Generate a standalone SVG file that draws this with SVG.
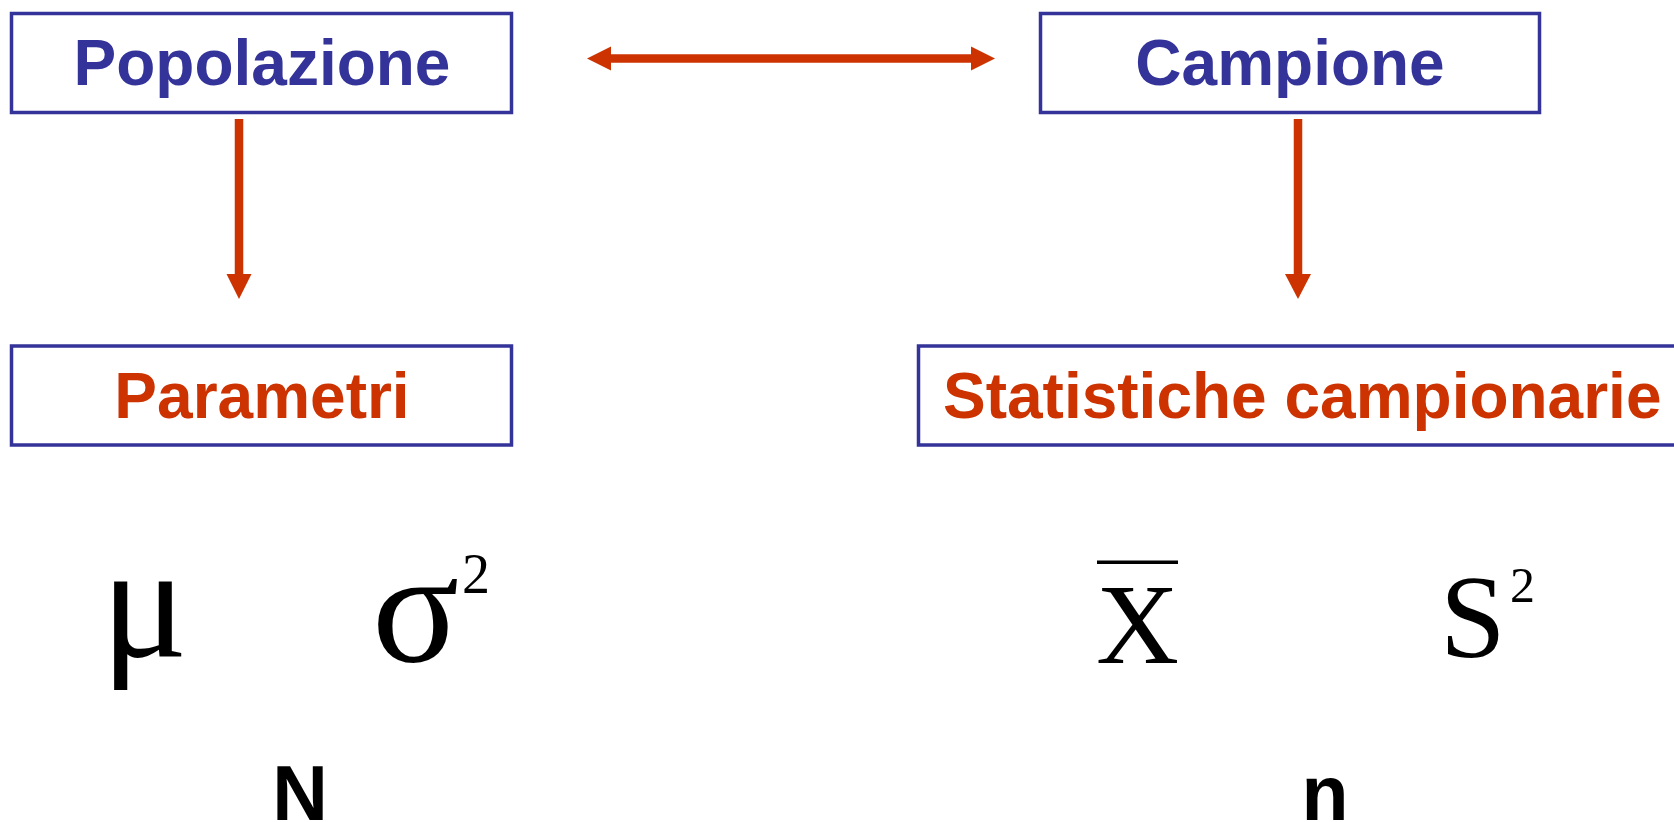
<svg xmlns="http://www.w3.org/2000/svg" width="1674" height="822" viewBox="0 0 1674 822">
<defs>
<style>
.box{fill:#fff;stroke:#333399;stroke-width:3.5}
.lbl{font-family:"Liberation Sans",Arial,sans-serif;font-weight:bold;font-size:64px}
.blue{fill:#333399}
.red{fill:#CC3300}
.math{font-family:"Liberation Serif","Times New Roman",serif;fill:#000}
.big{font-family:"Liberation Sans",Arial,sans-serif;font-weight:bold;font-size:77px;fill:#000}
.conn{stroke:#CC3300;stroke-width:8.5;fill:none}
.head{fill:#CC3300}
</style>
</defs>
<rect width="1674" height="822" fill="#fff"/>
<g id="popolazione">
<rect class="box" x="11.5" y="13.5" width="500" height="99"/>
<text class="lbl blue" x="262" y="85" text-anchor="middle">Popolazione</text>
</g>
<g id="campione">
<rect class="box" x="1040.5" y="13.5" width="499" height="99"/>
<text class="lbl blue" x="1290" y="85" text-anchor="middle">Campione</text>
</g>
<g id="parametri">
<rect class="box" x="11.5" y="346" width="500" height="99"/>
<text class="lbl red" x="262" y="418" text-anchor="middle">Parametri</text>
</g>
<g id="statistiche">
<rect class="box" x="918.5" y="346" width="800" height="99"/>
<text class="lbl red" x="943" y="418">Statistiche campionarie</text>
</g>
<g id="connectors">
<line class="conn" x1="239" y1="119" x2="239" y2="275"/>
<polygon class="head" points="226.5,274 251.5,274 239,299"/>
<line class="conn" x1="1298" y1="119" x2="1298" y2="275"/>
<polygon class="head" points="1285,274 1311,274 1298,299"/>
<line class="conn" x1="610" y1="58.5" x2="972" y2="58.5"/>
<polygon class="head" points="587,58.5 611,46.5 611,70.5"/>
<polygon class="head" points="995,58.5 971,46.5 971,70.5"/>
</g>
<g id="symbols">
<text class="math" x="101" y="656" font-size="162">μ</text>
<text class="math" x="372" y="661" font-size="162">σ</text>
<text class="math" x="462" y="593" font-size="56">2</text>
<text class="math" x="1096" y="663" font-size="115">X</text>
<rect x="1097" y="560.5" width="81" height="3.5" fill="#000"/>
<text class="math" x="1440" y="657" font-size="118">S</text>
<text class="math" x="1510" y="602" font-size="50">2</text>
</g>
<g id="sizes">
<text class="big" x="300" y="820" text-anchor="middle">N</text>
<text class="big" x="1325" y="820" text-anchor="middle">n</text>
</g>
</svg>
